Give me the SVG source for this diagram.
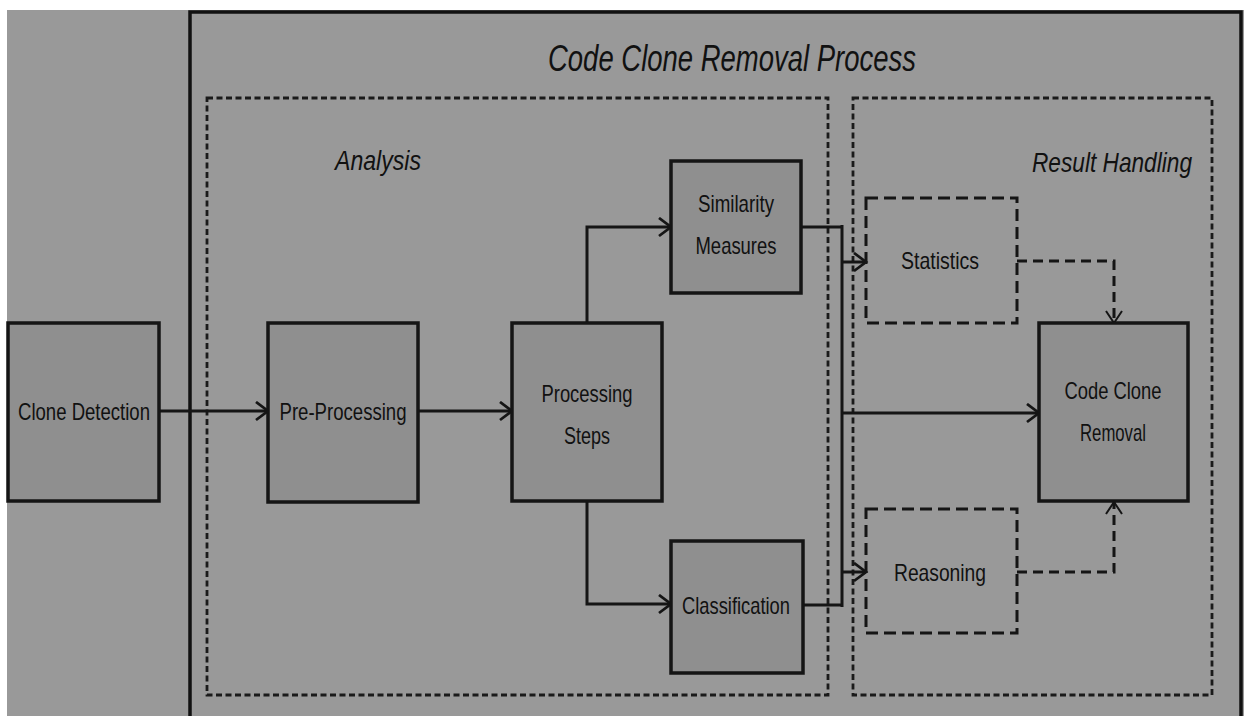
<svg xmlns="http://www.w3.org/2000/svg" width="1244" height="716" viewBox="0 0 1244 716">
<defs>
<style>
.node{fill:#8f8f8f;stroke:#151515;stroke-width:3.5}
.dnode{fill:none;stroke:#151515;stroke-width:3;stroke-dasharray:12 6}
.grp{fill:none;stroke:#1a1a1a;stroke-width:2.8;stroke-dasharray:6 3.5}
.lbl{font-family:"Liberation Sans",Arial,sans-serif;font-size:24px;fill:#111;text-anchor:middle}
.ttl{font-family:"Liberation Sans",Arial,sans-serif;font-style:italic;fill:#111;text-anchor:middle}
.c{fill:none;stroke:#151515;stroke-width:3}
.cd{fill:none;stroke:#151515;stroke-width:3;stroke-dasharray:10 6}
</style>
<marker id="arr" markerUnits="userSpaceOnUse" markerWidth="18" markerHeight="22" refX="14" refY="10" orient="auto">
<path d="M2,1 L14,10 L2,19" fill="none" stroke="#151515" stroke-width="2.8"/>
</marker>
<marker id="arrt" markerUnits="userSpaceOnUse" markerWidth="18" markerHeight="22" refX="14" refY="10" orient="auto">
<path d="M2,2 L14,10 L2,18" fill="none" stroke="#151515" stroke-width="2"/>
</marker>
</defs>
<rect x="0" y="0" width="1244" height="716" fill="#ffffff"/>
<rect x="7" y="10" width="1237" height="706" fill="#999999"/>
<path d="M190,716 L190,12 L1241,12 L1241,716" fill="none" stroke="#111" stroke-width="3.5"/>
<text class="ttl" x="732" y="71" font-size="37" textLength="368" lengthAdjust="spacingAndGlyphs">Code Clone Removal Process</text>

<g id="analysis">
<rect class="grp" x="207" y="98" width="621" height="597"/>
<text class="ttl" x="378" y="170" font-size="28" textLength="86" lengthAdjust="spacingAndGlyphs">Analysis</text>
</g>
<g id="result-handling">
<rect class="grp" x="853" y="98" width="359" height="597"/>
<text class="ttl" x="1112" y="172" font-size="28" textLength="160" lengthAdjust="spacingAndGlyphs">Result Handling</text>
</g>

<g id="connectors">
<path class="c" d="M159,411 L268,411" marker-end="url(#arr)"/>
<path class="c" d="M418,411 L512,411" marker-end="url(#arr)"/>
<path class="c" d="M587,323 L587,227 L671,227" marker-end="url(#arr)"/>
<path class="c" d="M587,501 L587,604 L671,604" marker-end="url(#arr)"/>
<path class="c" d="M801,227 L842,227" stroke-width="4.5"/>
<path class="c" d="M803,605 L842,605" stroke-width="4.5"/>
<path class="c" d="M842,225 L842,607"/>
<path class="c" d="M842,262 L866,262" marker-end="url(#arr)"/>
<path class="c" d="M842,413 L1039,413" marker-end="url(#arr)"/>
<path class="c" d="M842,572 L866,572" marker-end="url(#arr)"/>
<path class="cd" d="M1017,261 L1114,261 L1114,323" marker-end="url(#arrt)"/>
<path class="cd" d="M1017,572 L1114,572 L1114,502" marker-end="url(#arrt)"/>
</g>

<g id="clone-detection">
<rect class="node" x="8" y="323" width="151" height="178"/>
<text class="lbl" x="84" y="420" textLength="132" lengthAdjust="spacingAndGlyphs">Clone Detection</text>
</g>
<g id="pre-processing">
<rect class="node" x="268" y="323" width="150" height="179"/>
<text class="lbl" x="343" y="420" textLength="127" lengthAdjust="spacingAndGlyphs">Pre-Processing</text>
</g>
<g id="processing-steps">
<rect class="node" x="512" y="323" width="150" height="178"/>
<text class="lbl" x="587" y="402" textLength="91" lengthAdjust="spacingAndGlyphs">Processing</text>
<text class="lbl" x="587" y="444" textLength="46" lengthAdjust="spacingAndGlyphs">Steps</text>
</g>
<g id="similarity-measures">
<rect class="node" x="671" y="161" width="130" height="132"/>
<text class="lbl" x="736" y="212" textLength="76" lengthAdjust="spacingAndGlyphs">Similarity</text>
<text class="lbl" x="736" y="254" textLength="81" lengthAdjust="spacingAndGlyphs">Measures</text>
</g>
<g id="classification">
<rect class="node" x="671" y="541" width="132" height="132"/>
<text class="lbl" x="736" y="614" textLength="108" lengthAdjust="spacingAndGlyphs">Classification</text>
</g>
<g id="statistics">
<rect class="dnode" x="866" y="198" width="151" height="125"/>
<text class="lbl" x="940" y="269" textLength="78" lengthAdjust="spacingAndGlyphs">Statistics</text>
</g>
<g id="reasoning">
<rect class="dnode" x="866" y="509" width="151" height="124"/>
<text class="lbl" x="940" y="581" textLength="92" lengthAdjust="spacingAndGlyphs">Reasoning</text>
</g>
<g id="code-clone-removal">
<rect class="node" x="1039" y="323" width="149" height="178"/>
<text class="lbl" x="1113" y="399" textLength="97" lengthAdjust="spacingAndGlyphs">Code Clone</text>
<text class="lbl" x="1113" y="441" textLength="66" lengthAdjust="spacingAndGlyphs">Removal</text>
</g>
</svg>
